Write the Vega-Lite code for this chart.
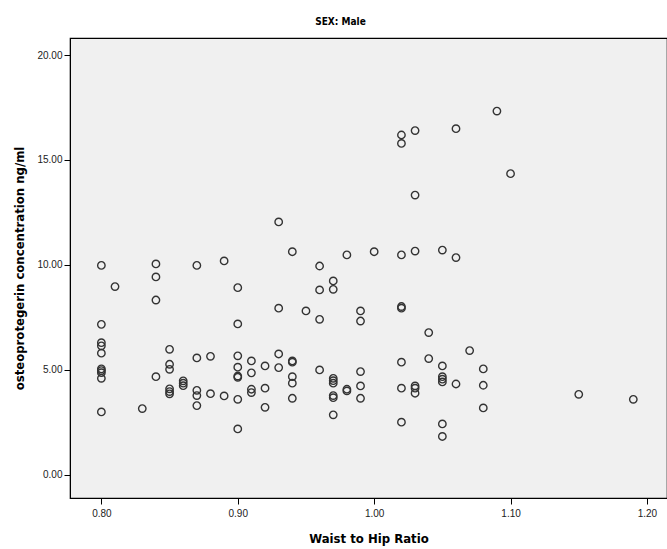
{
  "$schema": "https://vega.github.io/schema/vega-lite/v6.json",
  "autosize": {"type": "none"},
  "padding": {"left": 70, "top": 38, "right": 0, "bottom": 51},
  "width": 597,
  "height": 460,
  "background": "white",
  "title": {
    "text": "SEX: Male",
    "font": "DejaVu Sans Condensed, Liberation Sans, sans-serif",
    "fontSize": 10,
    "fontWeight": "bold",
    "color": "#000000",
    "anchor": "middle",
    "frame": "bounds",
    "offset": 11
  },
  "config": {
    "view": {"fill": "#f0f0f0", "stroke": "#000000", "strokeWidth": 1.2},
    "axis": {
      "grid": false,
      "domainColor": "#000000",
      "tickColor": "#000000",
      "tickSize": 6,
      "labelFont": "Liberation Sans, sans-serif",
      "labelFontSize": 10,
      "labelColor": "#222222",
      "titleFont": "DejaVu Sans Condensed, Liberation Sans, sans-serif",
      "titleFontSize": 13,
      "titleFontWeight": "bold",
      "titleColor": "#000000"
    }
  },
  "data": {
    "values": [
      {"whr": 0.80, "opg": 9.98}, {"whr": 0.80, "opg": 7.17}, {"whr": 0.80, "opg": 6.3}, {"whr": 0.80, "opg": 6.15},
      {"whr": 0.80, "opg": 5.8}, {"whr": 0.80, "opg": 5.05}, {"whr": 0.80, "opg": 4.97}, {"whr": 0.80, "opg": 4.87},
      {"whr": 0.80, "opg": 4.6}, {"whr": 0.80, "opg": 3.0},
      {"whr": 0.81, "opg": 8.97},
      {"whr": 0.83, "opg": 3.16},
      {"whr": 0.84, "opg": 10.05}, {"whr": 0.84, "opg": 9.43}, {"whr": 0.84, "opg": 8.33}, {"whr": 0.84, "opg": 4.68},
      {"whr": 0.85, "opg": 5.98}, {"whr": 0.85, "opg": 5.27}, {"whr": 0.85, "opg": 5.03}, {"whr": 0.85, "opg": 4.1},
      {"whr": 0.85, "opg": 3.97}, {"whr": 0.85, "opg": 3.86},
      {"whr": 0.86, "opg": 4.48}, {"whr": 0.86, "opg": 4.37}, {"whr": 0.86, "opg": 4.25},
      {"whr": 0.87, "opg": 9.98}, {"whr": 0.87, "opg": 5.57}, {"whr": 0.87, "opg": 4.03}, {"whr": 0.87, "opg": 3.78},
      {"whr": 0.87, "opg": 3.3},
      {"whr": 0.88, "opg": 5.65}, {"whr": 0.88, "opg": 3.87},
      {"whr": 0.89, "opg": 10.19}, {"whr": 0.89, "opg": 3.76},
      {"whr": 0.90, "opg": 8.92}, {"whr": 0.90, "opg": 7.19}, {"whr": 0.90, "opg": 5.67}, {"whr": 0.90, "opg": 5.13},
      {"whr": 0.90, "opg": 4.71}, {"whr": 0.90, "opg": 4.65}, {"whr": 0.90, "opg": 3.6}, {"whr": 0.90, "opg": 2.19},
      {"whr": 0.91, "opg": 5.43}, {"whr": 0.91, "opg": 4.86}, {"whr": 0.91, "opg": 4.08}, {"whr": 0.91, "opg": 3.92},
      {"whr": 0.92, "opg": 5.19}, {"whr": 0.92, "opg": 4.13}, {"whr": 0.92, "opg": 3.22},
      {"whr": 0.93, "opg": 12.05}, {"whr": 0.93, "opg": 7.94}, {"whr": 0.93, "opg": 5.76}, {"whr": 0.93, "opg": 5.11},
      {"whr": 0.94, "opg": 10.63}, {"whr": 0.94, "opg": 5.43}, {"whr": 0.94, "opg": 5.37}, {"whr": 0.94, "opg": 4.68},
      {"whr": 0.94, "opg": 4.37}, {"whr": 0.94, "opg": 3.65},
      {"whr": 0.95, "opg": 7.81},
      {"whr": 0.96, "opg": 9.95}, {"whr": 0.96, "opg": 8.81}, {"whr": 0.96, "opg": 7.41}, {"whr": 0.96, "opg": 5.0},
      {"whr": 0.97, "opg": 9.24}, {"whr": 0.97, "opg": 8.84}, {"whr": 0.97, "opg": 4.6}, {"whr": 0.97, "opg": 4.49},
      {"whr": 0.97, "opg": 4.37}, {"whr": 0.97, "opg": 3.78}, {"whr": 0.97, "opg": 3.68}, {"whr": 0.97, "opg": 2.86},
      {"whr": 0.98, "opg": 10.48}, {"whr": 0.98, "opg": 4.08}, {"whr": 0.98, "opg": 4.0},
      {"whr": 0.99, "opg": 7.81}, {"whr": 0.99, "opg": 7.33}, {"whr": 0.99, "opg": 4.92}, {"whr": 0.99, "opg": 4.24},
      {"whr": 0.99, "opg": 3.65},
      {"whr": 1.00, "opg": 10.63},
      {"whr": 1.02, "opg": 16.19}, {"whr": 1.02, "opg": 15.79}, {"whr": 1.02, "opg": 10.48}, {"whr": 1.02, "opg": 8.02},
      {"whr": 1.02, "opg": 7.94}, {"whr": 1.02, "opg": 5.37}, {"whr": 1.02, "opg": 4.13}, {"whr": 1.02, "opg": 2.51},
      {"whr": 1.03, "opg": 16.4}, {"whr": 1.03, "opg": 13.33}, {"whr": 1.03, "opg": 10.66}, {"whr": 1.03, "opg": 4.24},
      {"whr": 1.03, "opg": 4.13}, {"whr": 1.03, "opg": 3.89},
      {"whr": 1.04, "opg": 6.78}, {"whr": 1.04, "opg": 5.54},
      {"whr": 1.05, "opg": 10.71}, {"whr": 1.05, "opg": 5.19}, {"whr": 1.05, "opg": 4.68}, {"whr": 1.05, "opg": 4.56},
      {"whr": 1.05, "opg": 4.43}, {"whr": 1.05, "opg": 2.43}, {"whr": 1.05, "opg": 1.83},
      {"whr": 1.06, "opg": 16.49}, {"whr": 1.06, "opg": 10.35}, {"whr": 1.06, "opg": 4.33},
      {"whr": 1.07, "opg": 5.92},
      {"whr": 1.08, "opg": 5.05}, {"whr": 1.08, "opg": 4.27}, {"whr": 1.08, "opg": 3.19},
      {"whr": 1.09, "opg": 17.33},
      {"whr": 1.10, "opg": 14.35},
      {"whr": 1.15, "opg": 3.84},
      {"whr": 1.19, "opg": 3.6}
    ]
  },
  "mark": {"type": "point", "shape": "circle", "filled": false, "stroke": "#333333", "strokeWidth": 1.4, "size": 55, "opacity": 1},
  "encoding": {
    "x": {
      "field": "whr",
      "type": "quantitative",
      "title": "Waist to Hip Ratio",
      "scale": {"domain": [0.777, 1.2147], "nice": false, "zero": false},
      "axis": {"values": [0.8, 0.9, 1.0, 1.1, 1.2], "format": ".2f", "titlePadding": 14, "labelPadding": 4}
    },
    "y": {
      "field": "opg",
      "type": "quantitative",
      "title": "osteoprotegerin concentration ng/ml",
      "scale": {"domain": [-1.1, 20.81], "nice": false, "zero": false},
      "axis": {"values": [0, 5, 10, 15, 20], "format": ".2f", "titlePadding": 10, "labelPadding": 2}
    }
  }
}
